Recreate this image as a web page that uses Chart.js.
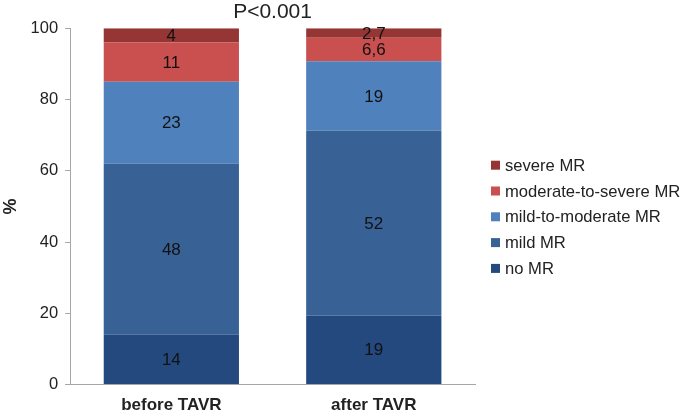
<!DOCTYPE html>
<html>
<head>
<meta charset="utf-8">
<script src="https://cdn.jsdelivr.net/npm/chart.js@4/dist/chart.umd.min.js"></script>
<style>
  html, body { margin: 0; padding: 0; background: #fff; }
  #wrap { width: 685px; height: 412px; }
</style>
</head>
<body>
<div id="wrap"><canvas id="chart"></canvas></div>
<script>
const categories = ['before TAVR', 'after TAVR'];
const seriesNames = ['no MR', 'mild MR', 'mild-to-moderate MR', 'moderate-to-severe MR', 'severe MR'];
const noMR = [14, 19.4];
const mildMR = [48, 51.9];
const mildModMR = [23, 19.4];
const modSevMR = [11, 6.6];
const severeMR = [4, 2.7];
// text printed inside the segments
const noMRLabels = ['14', '19'];
const mildMRLabels = ['48', '52'];
const mildModLabels = ['23', '19'];
const modSevLabels = ['11', '6,6'];
const severeLabels = ['4', '2,7'];
const yTicks = [0, 20, 40, 60, 80, 100];

const colors = ['#23497F', '#386296', '#4F81BD', '#C9504E', '#963634'];
const values = [noMR, mildMR, mildModMR, modSevMR, severeMR];
const labels = [noMRLabels, mildMRLabels, mildModLabels, modSevLabels, severeLabels];
const FONT = '"Liberation Sans", Arial, sans-serif';

const segmentLabels = {
    id: 'segmentLabels',
    afterDatasetsDraw(chart) {
        const ctx = chart.ctx;
        ctx.save();
        ctx.font = '17px ' + FONT;
        ctx.fillStyle = '#111';
        ctx.textAlign = 'center';
        ctx.textBaseline = 'middle';
        chart.data.datasets.forEach((ds, i) => {
            chart.getDatasetMeta(i).data.forEach((bar, j) => {
                const p = bar.getProps(['x', 'y', 'base'], true);
                ctx.fillText(labels[i][j], p.x, (p.y + p.base) / 2 + 1);
            });
        });
        ctx.restore();
    }
};

// legend on the right, severe first
const sideLegend = {
    id: 'sideLegend',
    afterDraw(chart) {
        const ctx = chart.ctx;
        const area = chart.chartArea;
        const x = area.right + 16;
        let y = area.top + 137;
        ctx.save();
        ctx.font = '16.6px ' + FONT;
        ctx.textBaseline = 'middle';
        ctx.textAlign = 'left';
        for (let i = chart.data.datasets.length - 1; i >= 0; i--) {
            const ds = chart.data.datasets[i];
            ctx.fillStyle = ds.backgroundColor;
            ctx.fillRect(x, y - 4.5, 9, 9);
            ctx.fillStyle = '#222';
            ctx.fillText(ds.label, x + 14, y + 1);
            y += 25.8;
        }
        ctx.restore();
    }
};

new Chart(document.getElementById('chart'), {
    type: 'bar',
    data: {
        labels: categories,
        datasets: seriesNames.map((name, i) => ({
            label: name,
            data: values[i],
            backgroundColor: colors[i],
            borderWidth: 0,
            barPercentage: 0.668,
            categoryPercentage: 1.0,
        })),
    },
    options: {
        responsive: true,
        maintainAspectRatio: false,
        animation: false,
        layout: { padding: { left: 0, right: 210, bottom: -7 } },
        plugins: {
            title: {
                display: true,
                text: 'P<0.001',
                fullSize: false,
                color: '#222',
                font: { family: FONT, size: 21, weight: 'normal' },
                padding: { top: 0, bottom: 3 },
            },
            legend: { display: false },
            tooltip: { enabled: false },
        },
        scales: {
            x: {
                stacked: true,
                grid: { display: false },
                border: { display: true, color: '#A6A6A6' },
                ticks: {
                    color: '#222',
                    padding: 3,
                    font: { family: FONT, size: 17, weight: 'bold' },
                },
            },
            y: {
                stacked: true,
                min: 0,
                max: 100,
                afterBuildTicks(axis) { axis.ticks = yTicks.map(v => ({ value: v })); },
                grid: { drawOnChartArea: false, drawTicks: true, tickLength: 5, color: '#A6A6A6' },
                border: { display: true, color: '#A6A6A6' },
                ticks: {
                    color: '#222',
                    padding: 7,
                    font: { family: FONT, size: 16.5 },
                },
                title: {
                    display: true,
                    text: '%',
                    color: '#222',
                    font: { family: FONT, size: 18, weight: 'bold' },
                    padding: { top: 0, bottom: 2 },
                },
            },
        },
    },
    plugins: [segmentLabels, sideLegend],
});
</script>
</body>
</html>
